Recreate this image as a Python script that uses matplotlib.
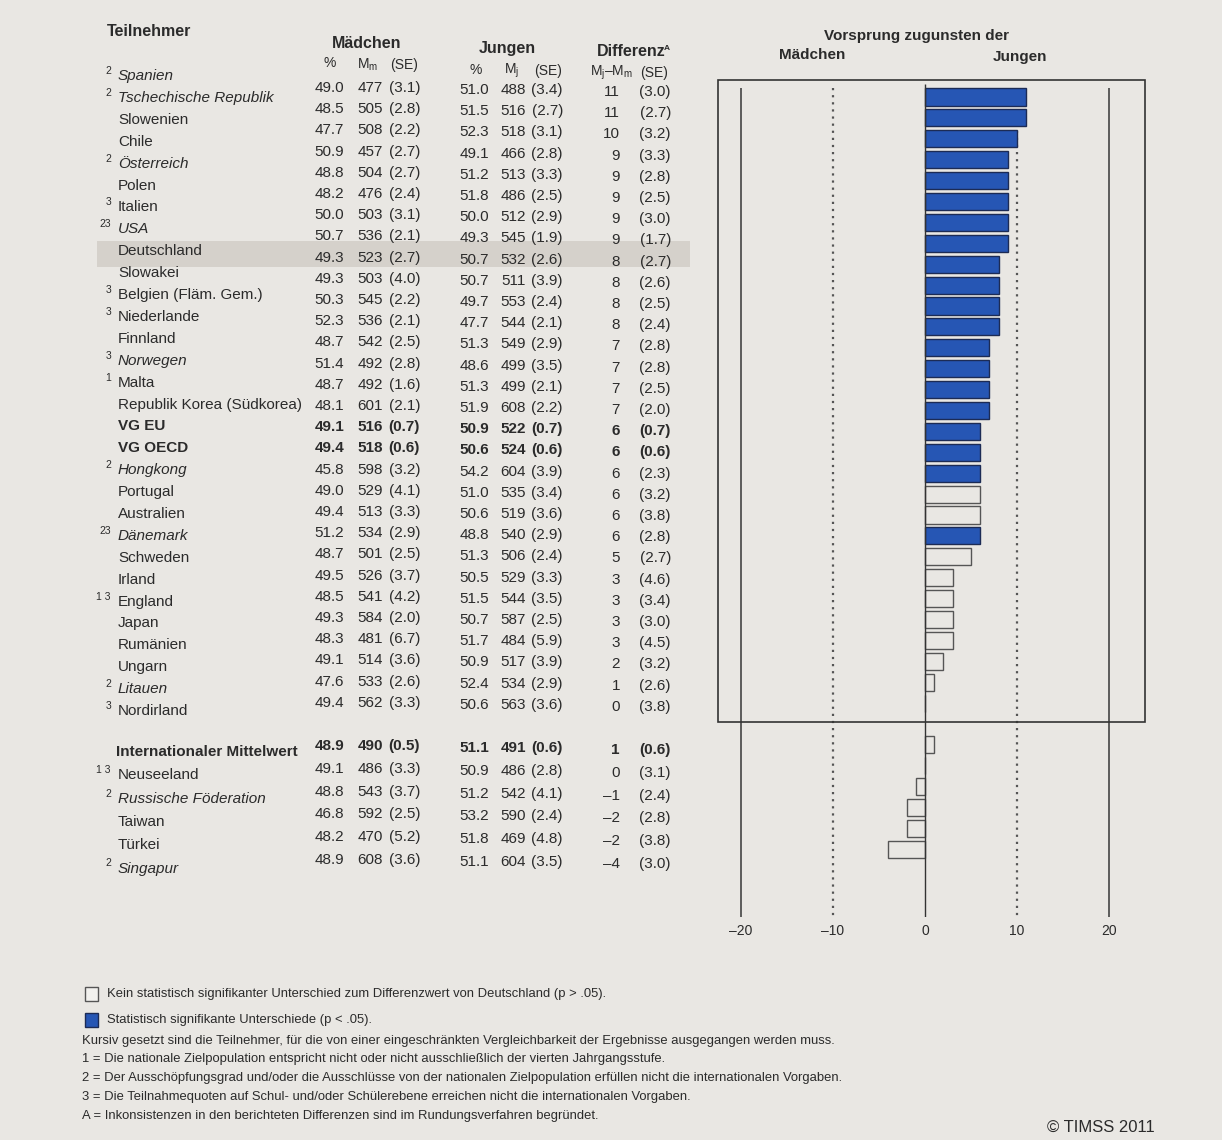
import matplotlib
matplotlib.use("Agg")
import matplotlib.pyplot as plt
from matplotlib.patches import Rectangle

plt.rcParams['font.family'] = ['Liberation Sans', 'DejaVu Sans']
plt.rcParams['mathtext.fontset'] = 'custom'
plt.rcParams['mathtext.rm'] = 'Liberation Sans'
plt.rcParams['mathtext.it'] = 'Liberation Sans:italic'
plt.rcParams['mathtext.bf'] = 'Liberation Sans:bold'

# ---- data -------------------------------------------------------------
teilnehmer = [
    "Spanien", "Tschechische Republik", "Slowenien", "Chile", "Österreich",
    "Polen", "Italien", "USA", "Deutschland", "Slowakei",
    "Belgien (Fläm. Gem.)", "Niederlande", "Finnland", "Norwegen", "Malta",
    "Republik Korea (Südkorea)", "VG EU", "VG OECD", "Hongkong", "Portugal",
    "Australien", "Dänemark", "Schweden", "Irland", "England",
    "Japan", "Rumänien", "Ungarn", "Litauen", "Nordirland",
    "Internationaler Mittelwert", "Neuseeland", "Russische Föderation",
    "Taiwan", "Türkei", "Singapur",
]
fussnote = [
    "2", "2", "", "", "2", "", "3", "23", "", "", "3", "3", "", "3", "1",
    "", "", "", "2", "", "", "23", "", "", "1 3", "", "", "", "2", "3",
    "", "1 3", "2", "", "", "2",
]
kursiv = [
    True, True, False, False, True, False, False, True, False, False,
    False, False, False, True, False, False, False, False, True, False,
    False, True, False, False, False, False, False, False, True, False,
    False, False, True, False, False, True,
]
fett = [n in ("VG EU", "VG OECD", "Internationaler Mittelwert") for n in teilnehmer]

prozent_m = [49.0, 48.5, 47.7, 50.9, 48.8, 48.2, 50.0, 50.7, 49.3, 49.3,
             50.3, 52.3, 48.7, 51.4, 48.7, 48.1, 49.1, 49.4, 45.8, 49.0,
             49.4, 51.2, 48.7, 49.5, 48.5, 49.3, 48.3, 49.1, 47.6, 49.4,
             48.9, 49.1, 48.8, 46.8, 48.2, 48.9]
mittel_m = [477, 505, 508, 457, 504, 476, 503, 536, 523, 503,
            545, 536, 542, 492, 492, 601, 516, 518, 598, 529,
            513, 534, 501, 526, 541, 584, 481, 514, 533, 562,
            490, 486, 543, 592, 470, 608]
se_m = [3.1, 2.8, 2.2, 2.7, 2.7, 2.4, 3.1, 2.1, 2.7, 4.0,
        2.2, 2.1, 2.5, 2.8, 1.6, 2.1, 0.7, 0.6, 3.2, 4.1,
        3.3, 2.9, 2.5, 3.7, 4.2, 2.0, 6.7, 3.6, 2.6, 3.3,
        0.5, 3.3, 3.7, 2.5, 5.2, 3.6]
prozent_j = [51.0, 51.5, 52.3, 49.1, 51.2, 51.8, 50.0, 49.3, 50.7, 50.7,
             49.7, 47.7, 51.3, 48.6, 51.3, 51.9, 50.9, 50.6, 54.2, 51.0,
             50.6, 48.8, 51.3, 50.5, 51.5, 50.7, 51.7, 50.9, 52.4, 50.6,
             51.1, 50.9, 51.2, 53.2, 51.8, 51.1]
mittel_j = [488, 516, 518, 466, 513, 486, 512, 545, 532, 511,
            553, 544, 549, 499, 499, 608, 522, 524, 604, 535,
            519, 540, 506, 529, 544, 587, 484, 517, 534, 563,
            491, 486, 542, 590, 469, 604]
se_j = [3.4, 2.7, 3.1, 2.8, 3.3, 2.5, 2.9, 1.9, 2.6, 3.9,
        2.4, 2.1, 2.9, 3.5, 2.1, 2.2, 0.7, 0.6, 3.9, 3.4,
        3.6, 2.9, 2.4, 3.3, 3.5, 2.5, 5.9, 3.9, 2.9, 3.6,
        0.6, 2.8, 4.1, 2.4, 4.8, 3.5]
differenz = [11, 11, 10, 9, 9, 9, 9, 9, 8, 8,
             8, 8, 7, 7, 7, 7, 6, 6, 6, 6,
             6, 6, 5, 3, 3, 3, 3, 2, 1, 0,
             1, 0, -1, -2, -2, -4]
se_diff = [3.0, 2.7, 3.2, 3.3, 2.8, 2.5, 3.0, 1.7, 2.7, 2.6,
           2.5, 2.4, 2.8, 2.8, 2.5, 2.0, 0.7, 0.6, 2.3, 3.2,
           3.8, 2.8, 2.7, 4.6, 3.4, 3.0, 4.5, 3.2, 2.6, 3.8,
           0.6, 3.1, 2.4, 2.8, 3.8, 3.0]
signifikant = [True] * 19 + [False, False, True] + [False] * 14

achsen_ticks = [-20, -10, 0, 10, 20]

# ---- layout helpers ---------------------------------------------------
W, H = 1222, 1140
PAPER = "#e9e7e3"
INK = "#2b2b2b"
BLUE = "#2656b4"

fig = plt.figure(figsize=(W / 100, H / 100), dpi=100, facecolor=PAPER)

# table row index: 30 rows in the main block, one empty row, 6 rows below
zeile = list(range(30)) + list(range(31, 37))


def name_y(i):
    return 76 + 21.9 * i if i <= 29 else 752 + 23.3 * (i - 31)


def wert_y(i):
    return 88 + 21.2 * i if i <= 29 else 746 + 22.8 * (i - 31)


def T(x, y, s, **kw):
    kw.setdefault("color", INK)
    kw.setdefault("va", "center")
    return fig.text(x / W, 1 - y / H, s, **kw)


FS = 11

# highlight band for Deutschland
i_de = teilnehmer.index("Deutschland")
yb = (name_y(i_de) + wert_y(i_de)) / 2
fig.patches.append(Rectangle((97 / W, 1 - (yb + 13) / H), (690 - 97) / W, 26 / H,
                             transform=fig.transFigure, facecolor="#d5d1cb",
                             edgecolor="none", zorder=0))

# ---- headers ----------------------------------------------------------
T(107, 31, "Teilnehmer", fontsize=11.5, fontweight="bold")
T(367, 43, "Mädchen", fontsize=11.5, fontweight="bold", ha="center")
T(507, 48, "Jungen", fontsize=11.5, fontweight="bold", ha="center")
T(597, 52, "Differenz", fontsize=11.5, fontweight="bold")
T(664, 48, "A", fontsize=6, fontweight="bold")

T(330, 63, "%", fontsize=10, ha="center")
T(368, 65, r"M$_\mathrm{m}$", fontsize=10, ha="center")
T(404, 65, "(SE)", fontsize=10, ha="center")
T(476, 70, "%", fontsize=10, ha="center")
T(512, 71, r"M$_\mathrm{j}$", fontsize=10, ha="center")
T(548, 71, "(SE)", fontsize=10, ha="center")
T(612, 73, r"M$_\mathrm{j}$–M$_\mathrm{m}$", fontsize=10, ha="center")
T(654, 73, "(SE)", fontsize=10, ha="center")

T(916, 36, "Vorsprung zugunsten der", fontsize=11, fontweight="bold", ha="center")
T(812, 55, "Mädchen", fontsize=11, fontweight="bold", ha="center")
T(1020, 57, "Jungen", fontsize=11, fontweight="bold", ha="center")

# ---- table body -------------------------------------------------------
for k, i in enumerate(zeile):
    wt = "bold" if fett[k] else "normal"
    st = "italic" if kursiv[k] else "normal"
    ny = name_y(i)
    vy = wert_y(i)
    if fussnote[k]:
        T(111, ny - 5, fussnote[k], fontsize=7.5, ha="right")
    nx = 116 if teilnehmer[k] == "Internationaler Mittelwert" else 118
    T(nx, ny, teilnehmer[k], fontsize=FS, fontweight=wt, fontstyle=st)
    T(344, vy, f"{prozent_m[k]:.1f}", fontsize=FS, fontweight=wt, ha="right")
    T(383, vy, f"{mittel_m[k]}", fontsize=FS, fontweight=wt, ha="right")
    T(420, vy, f"({se_m[k]:.1f})", fontsize=FS, fontweight=wt, ha="right")
    T(489, vy + 2, f"{prozent_j[k]:.1f}", fontsize=FS, fontweight=wt, ha="right")
    T(526, vy + 2, f"{mittel_j[k]}", fontsize=FS, fontweight=wt, ha="right")
    T(563, vy + 2, f"({se_j[k]:.1f})", fontsize=FS, fontweight=wt, ha="right")
    d = f"{differenz[k]}".replace("-", "–")
    T(620, vy + 4, d, fontsize=FS, fontweight=wt, ha="right")
    T(671, vy + 4, f"({se_diff[k]:.1f})", fontsize=FS, fontweight=wt, ha="right")

# ---- bar panel --------------------------------------------------------
x0_px, unit_px = 925, 9.2          # pixel of zero and pixels per point
y0_px, pitch_px = 97, 20.9         # pixel of first row and row pitch
xlim = (-24, 26)
top_px, bot_px = 70, 917
ylim = ((bot_px - y0_px) / pitch_px, (top_px - y0_px) / pitch_px)
left_px = x0_px + xlim[0] * unit_px
right_px = x0_px + xlim[1] * unit_px
ax = fig.add_axes([left_px / W, 1 - bot_px / H, (right_px - left_px) / W,
                   (bot_px - top_px) / H])
ax.set_facecolor("none")
ax.set_xlim(*xlim)
ax.set_ylim(*ylim)
for s in ax.spines.values():
    s.set_visible(False)
ax.set_yticks([])
ax.set_xticks(achsen_ticks)
ax.set_xticklabels([f"{t}".replace("-", "–") for t in achsen_ticks],
                   fontsize=10, color=INK)
ax.tick_params(axis="x", length=0, pad=5)

line_top = (88 - y0_px) / pitch_px
for t in achsen_ticks:
    if t == 0:
        ax.vlines(t, (84 - y0_px) / pitch_px, ylim[0], color="#333333", lw=1.0, zorder=3)
    elif abs(t) == 10:
        ax.vlines(t, line_top, ylim[0], color="#555555", lw=1.6,
                  linestyles=(0, (1, 2.2)), zorder=1)
    else:
        ax.vlines(t, line_top, ylim[0], color="#444444", lw=1.2, zorder=1)

# frame around the main block of participants
ax.add_patch(Rectangle((-22.5, (80 - y0_px) / pitch_px), 46.4,
                       (722 - 80) / pitch_px, fill=False, edgecolor="#333333",
                       lw=1.2, zorder=1))

farben = [BLUE if s else "none" for s in signifikant]
kanten = ["#1c2b55" if s else "#555555" for s in signifikant]
ax.barh(zeile, differenz, height=0.82, color=farben, edgecolor=kanten,
        linewidth=1.0, zorder=2)

# ---- legend and notes -------------------------------------------------
fig.patches.append(Rectangle((85 / W, 1 - 1001 / H), 13 / W, 14 / H,
                             transform=fig.transFigure, facecolor="#f2f1ee",
                             edgecolor="#555555", lw=1.0))
fig.patches.append(Rectangle((85 / W, 1 - 1027 / H), 13 / W, 14 / H,
                             transform=fig.transFigure, facecolor=BLUE,
                             edgecolor="#1c2b55", lw=1.0))
FN = 9.4
T(107, 994, "Kein statistisch signifikanter Unterschied zum Differenzwert von Deutschland (p > .05).", fontsize=FN)
T(107, 1020, "Statistisch signifikante Unterschiede (p < .05).", fontsize=FN)
T(82, 1041, "Kursiv gesetzt sind die Teilnehmer, für die von einer eingeschränkten Vergleichbarkeit der Ergebnisse ausgegangen werden muss.", fontsize=FN)
T(82, 1059, "1 = Die nationale Zielpopulation entspricht nicht oder nicht ausschließlich der vierten Jahrgangsstufe.", fontsize=FN)
T(82, 1078, "2 = Der Ausschöpfungsgrad und/oder die Ausschlüsse von der nationalen Zielpopulation erfüllen nicht die internationalen Vorgaben.", fontsize=FN)
T(82, 1097, "3 = Die Teilnahmequoten auf Schul- und/oder Schülerebene erreichen nicht die internationalen Vorgaben.", fontsize=FN)
T(82, 1116, "A = Inkonsistenzen in den berichteten Differenzen sind im Rundungsverfahren begründet.", fontsize=FN)
T(1155, 1127, "© TIMSS 2011", fontsize=12, ha="right")

fig.savefig("out.png", dpi=100, facecolor=PAPER)
